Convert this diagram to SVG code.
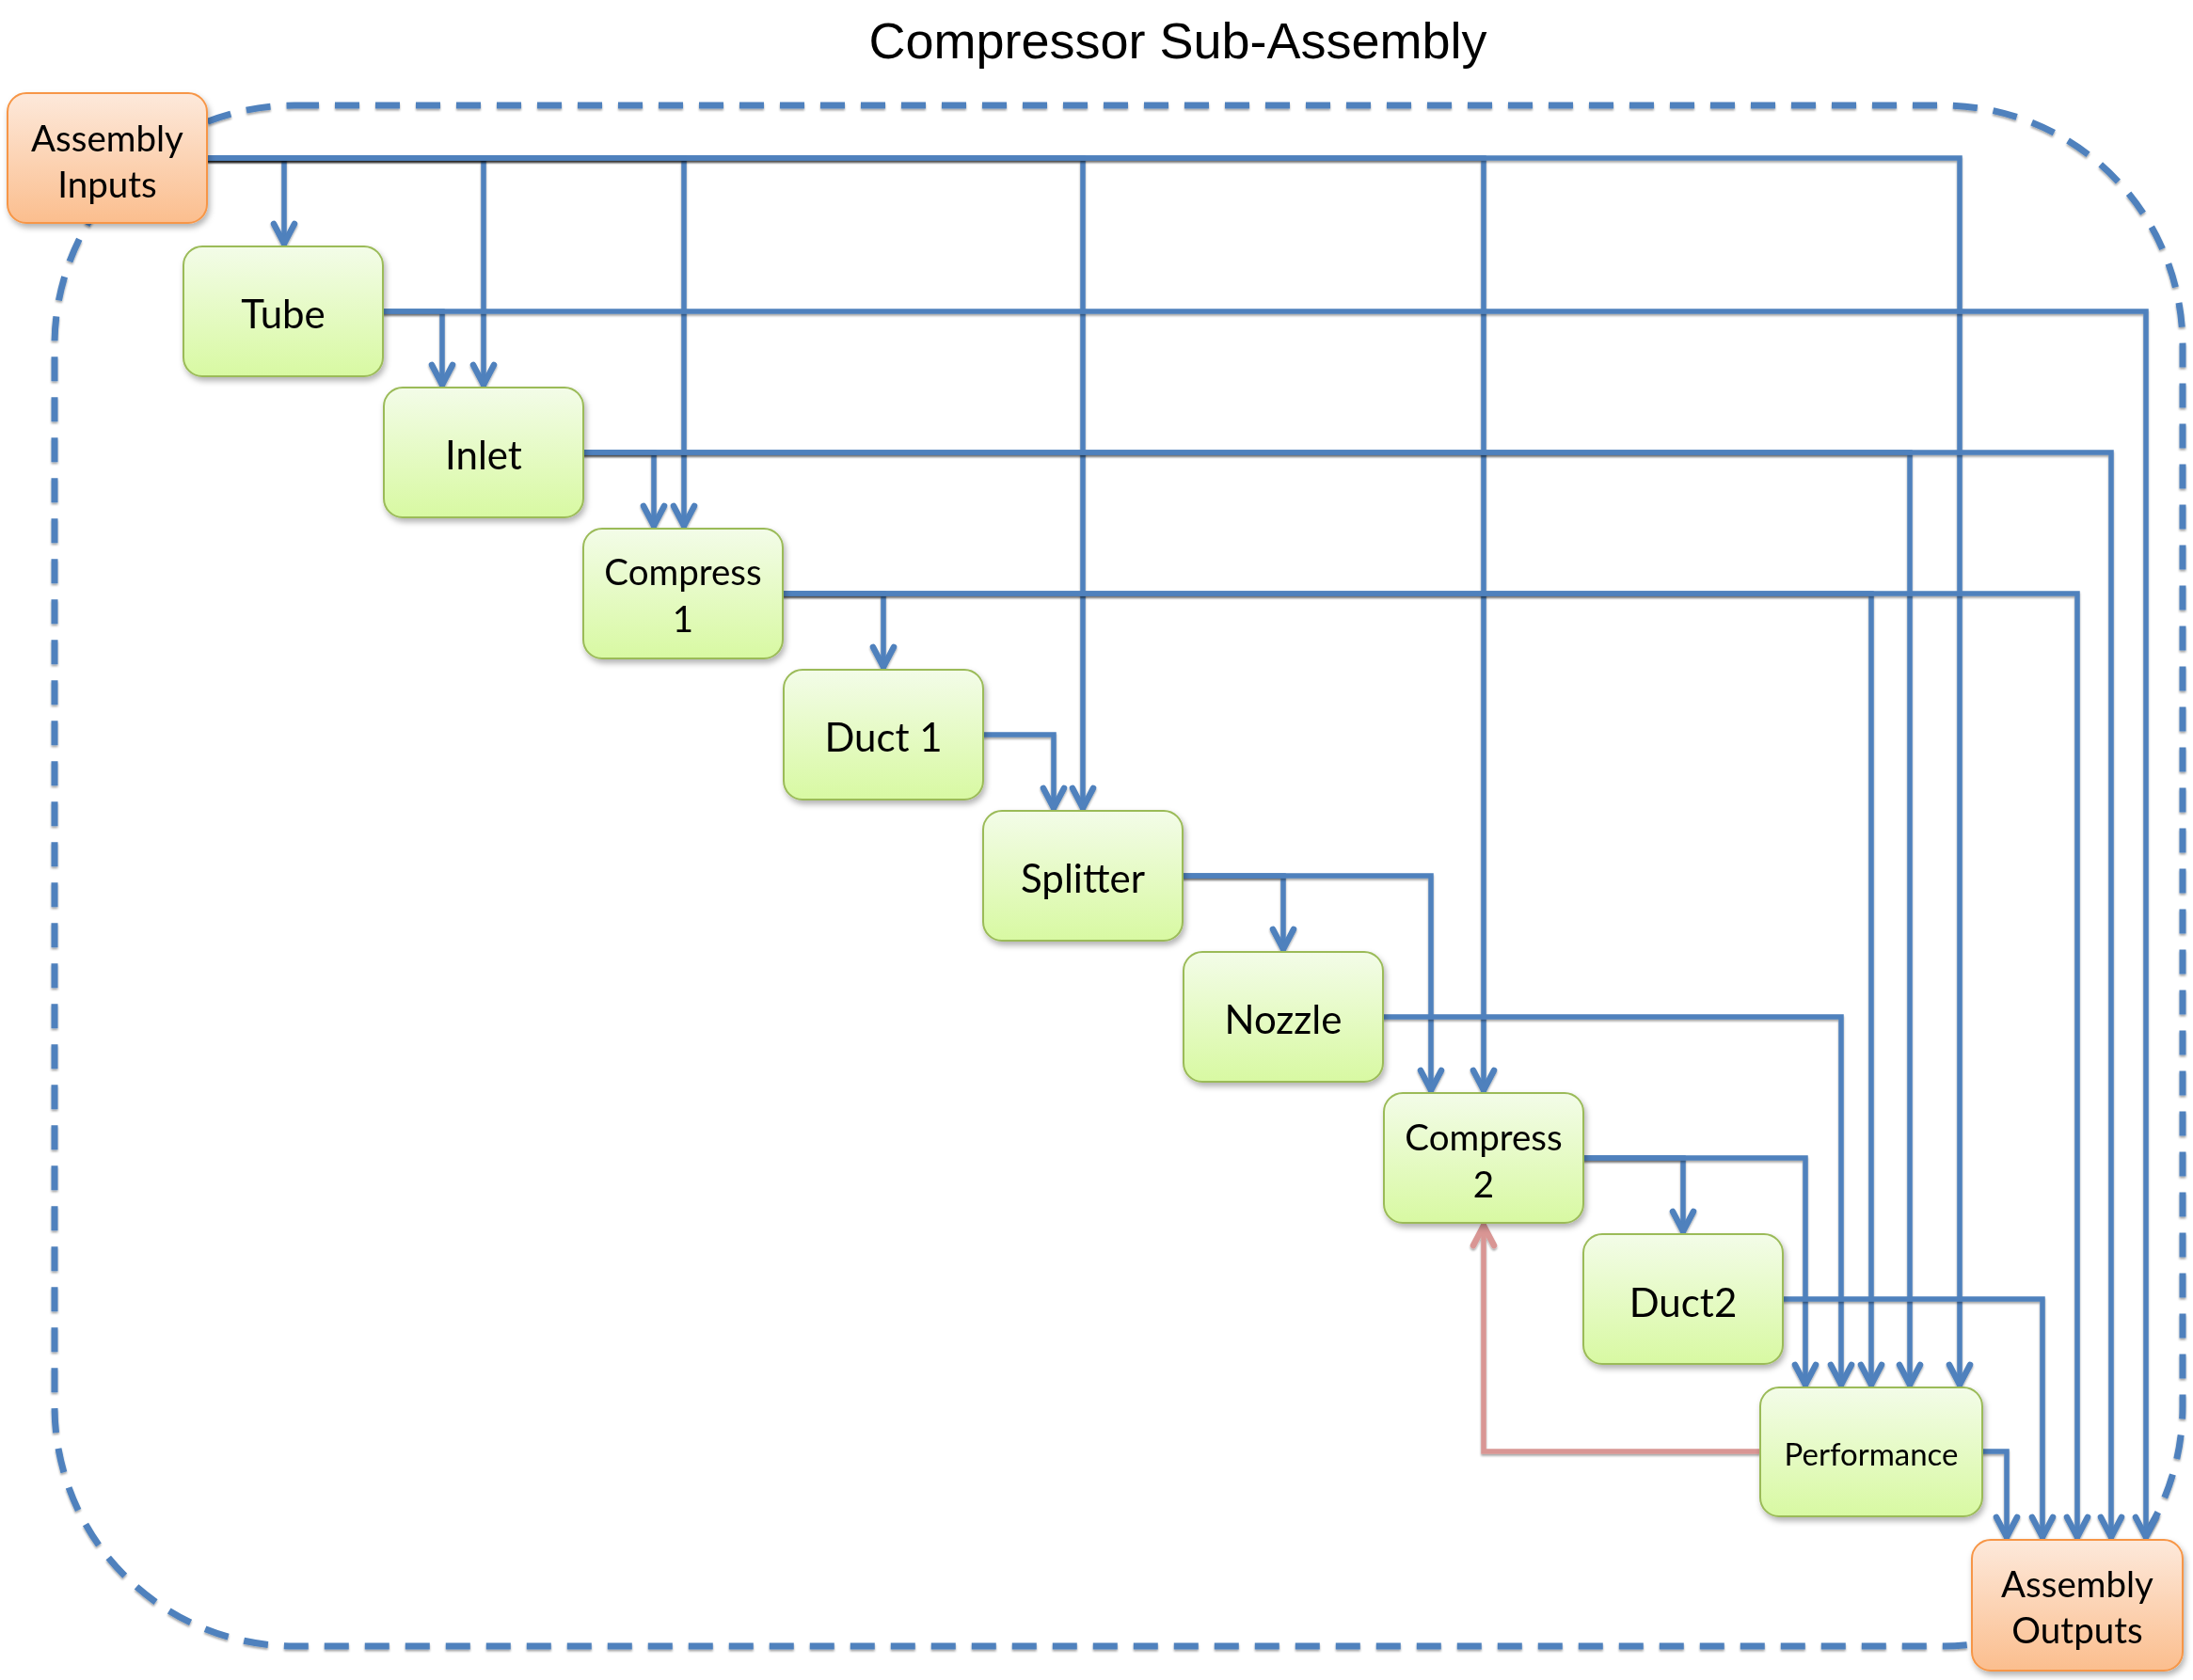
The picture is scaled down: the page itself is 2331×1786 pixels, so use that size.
<svg xmlns="http://www.w3.org/2000/svg" width="2331" height="1786" viewBox="0 0 2331 1786">
<style>
.title{font-family:"Liberation Sans",Arial,sans-serif;font-size:54px;fill:#000}
.lbl{font-family:Lato,"Open Sans",sans-serif;fill:#000;text-anchor:middle}
.big{font-size:42px}
.mid{font-size:38.5px}
.sm{font-size:33px}
.g{fill:url(#gg);stroke:#9BBB59;stroke-width:2}
.o{fill:url(#og);stroke:#F79646;stroke-width:2}
.c{fill:none;stroke:#4F81BD;stroke-width:5.5;marker-end:url(#ah);filter:url(#ls)}
.fb{fill:none;stroke:#D99694;stroke-width:5.5;marker-end:url(#ahp);filter:url(#ls)}
.border{fill:none;stroke:#4F81BD;stroke-width:7;stroke-dasharray:26 17;filter:url(#ls)}
.arm{fill:none;stroke-width:6.5;stroke-linecap:round;stroke-linejoin:round}
</style>
<defs>
<linearGradient id="gg" x1="0" y1="0" x2="0" y2="1">
<stop offset="0" stop-color="#F3FCE8"/><stop offset="1" stop-color="#D8F9A2"/>
</linearGradient>
<linearGradient id="og" x1="0" y1="0" x2="0" y2="1">
<stop offset="0" stop-color="#FDE9DB"/><stop offset="1" stop-color="#FBBE8E"/>
</linearGradient>
<filter id="ns" x="-10%" y="-10%" width="130%" height="130%">
<feDropShadow dx="2" dy="4" stdDeviation="3" flood-color="#000" flood-opacity="0.3"/>
</filter>
<filter id="ls" filterUnits="userSpaceOnUse" x="0" y="0" width="2331" height="1786">
<feDropShadow dx="0" dy="2" stdDeviation="1.2" flood-color="#000" flood-opacity="0.35"/>
</filter>
<marker id="ah" markerUnits="userSpaceOnUse" markerWidth="40" markerHeight="40" viewBox="-32 -20 40 40" refX="3" refY="0" orient="auto">
<path class="arm" d="M-21,-11 L0,0 L-21,11" stroke="#4F81BD"/>
</marker>
<marker id="ahp" markerUnits="userSpaceOnUse" markerWidth="40" markerHeight="40" viewBox="-32 -20 40 40" refX="3" refY="0" orient="auto">
<path class="arm" d="M-21,-11 L0,0 L-21,11" stroke="#D99694"/>
</marker>
</defs>
<rect width="2331" height="1786" fill="#fff"/>
<text class="title" x="1252" y="62" text-anchor="middle">Compressor Sub-Assembly</text>
<rect class="border" x="58" y="112" width="2262" height="1638" rx="255" ry="255"/>
<g id="connectors">
<path class="c" d="M220,168 H302 V262"/>
<path class="c" d="M220,168 H514 V412"/>
<path class="c" d="M220,168 H727 V562"/>
<path class="c" d="M220,168 H1151 V862"/>
<path class="c" d="M220,168 H1577 V1162"/>
<path class="c" d="M220,168 H2083 V1475"/>
<path class="c" d="M407,331 H470 V412"/>
<path class="c" d="M407,331 H2281 V1637"/>
<path class="c" d="M620,481 H695 V562"/>
<path class="c" d="M620,481 H2030 V1475"/>
<path class="c" d="M620,481 H2244 V1637"/>
<path class="c" d="M832,631 H939 V712"/>
<path class="c" d="M832,631 H1989 V1475"/>
<path class="c" d="M832,631 H2208 V1637"/>
<path class="c" d="M1045,781 H1120 V862"/>
<path class="c" d="M1257,931 H1364 V1012"/>
<path class="c" d="M1257,931 H1521 V1162"/>
<path class="c" d="M1470,1081 H1957 V1475"/>
<path class="c" d="M1683,1231 H1789 V1312"/>
<path class="c" d="M1683,1231 H1919 V1475"/>
<path class="c" d="M1895,1381 H2171 V1637"/>
<path class="c" d="M2107,1543 H2133 V1637"/>
<path class="fb" d="M1871,1543 H1577 V1300"/>
</g>
<g id="assembly-inputs" filter="url(#ns)">
<rect class="o" x="8" y="99" width="212" height="138" rx="20"/>
<text class="lbl mid" x="114" y="161">Assembly</text>
<text class="lbl mid" x="114" y="210">Inputs</text>
</g>
<g id="tube" filter="url(#ns)">
<rect class="g" x="195" y="262" width="212" height="138" rx="20"/>
<text class="lbl big" x="301" y="349">Tube</text>
</g>
<g id="inlet" filter="url(#ns)">
<rect class="g" x="408" y="412" width="212" height="138" rx="20"/>
<text class="lbl big" x="514" y="499">Inlet</text>
</g>
<g id="compress1" filter="url(#ns)">
<rect class="g" x="620" y="562" width="212" height="138" rx="20"/>
<text class="lbl mid" x="726" y="622">Compress</text>
<text class="lbl mid" x="726" y="672">1</text>
</g>
<g id="duct1" filter="url(#ns)">
<rect class="g" x="833" y="712" width="212" height="138" rx="20"/>
<text class="lbl big" x="939" y="799">Duct 1</text>
</g>
<g id="splitter" filter="url(#ns)">
<rect class="g" x="1045" y="862" width="212" height="138" rx="20"/>
<text class="lbl big" x="1151" y="949">Splitter</text>
</g>
<g id="nozzle" filter="url(#ns)">
<rect class="g" x="1258" y="1012" width="212" height="138" rx="20"/>
<text class="lbl big" x="1364" y="1099">Nozzle</text>
</g>
<g id="compress2" filter="url(#ns)">
<rect class="g" x="1471" y="1162" width="212" height="138" rx="20"/>
<text class="lbl mid" x="1577" y="1223">Compress</text>
<text class="lbl mid" x="1577" y="1273">2</text>
</g>
<g id="duct2" filter="url(#ns)">
<rect class="g" x="1683" y="1312" width="212" height="138" rx="20"/>
<text class="lbl big" x="1789" y="1400">Duct2</text>
</g>
<g id="performance" filter="url(#ns)">
<rect class="g" x="1871" y="1475" width="236" height="137" rx="20"/>
<text class="lbl sm" x="1989" y="1558">Performance</text>
</g>
<g id="assembly-outputs" filter="url(#ns)">
<rect class="o" x="2096" y="1637" width="224" height="139" rx="20"/>
<text class="lbl mid" x="2208" y="1698">Assembly</text>
<text class="lbl mid" x="2208" y="1747">Outputs</text>
</g>
</svg>
